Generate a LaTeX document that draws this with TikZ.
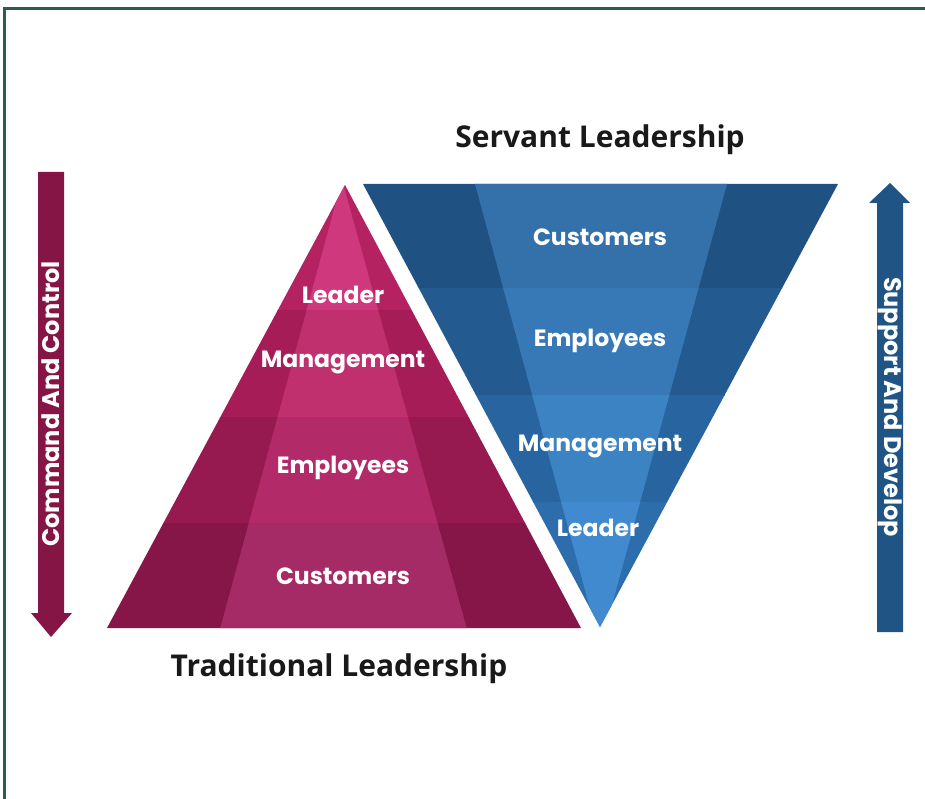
\documentclass[tikz,border=0pt]{standalone}
\usepackage{fontspec}
\newfontfamily\labfont{Poppins}
\newfontfamily\titlefont{Open Sans}
\definecolor{pinkSa}{HTML}{B42262}\definecolor{pinkCa}{HTML}{D0387D}
\definecolor{pinkSb}{HTML}{A51C57}\definecolor{pinkCb}{HTML}{C0306F}
\definecolor{pinkSc}{HTML}{961950}\definecolor{pinkCc}{HTML}{B22B68}
\definecolor{pinkSd}{HTML}{861647}\definecolor{pinkCd}{HTML}{A52B66}
\definecolor{blueSa}{HTML}{1F5282}\definecolor{blueCa}{HTML}{3470A9}
\definecolor{blueSb}{HTML}{235A90}\definecolor{blueCb}{HTML}{3779B6}
\definecolor{blueSc}{HTML}{2865A0}\definecolor{blueCc}{HTML}{3C83C4}
\definecolor{blueSd}{HTML}{2D6DAC}\definecolor{blueCd}{HTML}{418ACF}
\definecolor{arrowPink}{HTML}{851545}
\definecolor{arrowBlue}{HTML}{1F5485}
\definecolor{frameCol}{HTML}{2B5F4B}
\begin{document}
\begin{tikzpicture}[x=1pt,y=-1pt,
  lab/.style={text=white,font=\labfont\bfseries\fontsize{23.5}{25}\selectfont,inner sep=0pt},
  ttl/.style={text=black!90,font=\titlefont\bfseries\fontsize{30}{32}\selectfont,inner sep=0pt},
  arrowtxt/.style={text=white,font=\labfont\bfseries\fontsize{24}{26}\selectfont,inner sep=0pt}]
\useasboundingbox (0,0) rectangle (925,799);
\fill[white] (0,0) rectangle (925,799);
% frame
\draw[frameCol,line width=3pt] (4,805)--(4,9)--(930,9);
% pink triangle
\coordinate (pT) at (345,185);
\coordinate (pL) at (107,628);
\coordinate (pR) at (581,628);
\begin{scope}
\clip (pT)--(pL)--(pR)--cycle;
\foreach \ya/\yb/\s/\c in {180/310/pinkSa/pinkCa,310/417/pinkSb/pinkCb,417/523/pinkSc/pinkCc,523/640/pinkSd/pinkCd}{
  \fill[\s] (90,\ya) rectangle (600,\yb+0.6);
  \begin{scope}
    \clip (90,\ya) rectangle (600,\yb+0.6);
    \fill[\c] (217,640)--(342,180)--(470,640)--cycle;
  \end{scope}
}
\end{scope}
% blue triangle
\coordinate (bL) at (363,184);
\coordinate (bR) at (838,184);
\coordinate (bB) at (600,627);
\begin{scope}
\clip (bL)--(bR)--(bB)--cycle;
\foreach \ya/\yb/\s/\c in {180/288/blueSa/blueCa,288/395/blueSb/blueCb,395/502/blueSc/blueCc,502/640/blueSd/blueCd}{
  \fill[\s] (350,\ya) rectangle (850,\yb+0.6);
  \begin{scope}
    \clip (350,\ya) rectangle (850,\yb+0.6);
    \fill[\c] (475,184)--(727,184)--(606,627)--(595,627)--cycle;
  \end{scope}
}
\end{scope}
% arrows
\fill[arrowPink] (38,172)--(64,172)--(64,613)--(72,613)--(51,637)--(31,613)--(38,613)--cycle;
\fill[arrowBlue] (877,632)--(903,632)--(903,203)--(910,203)--(890,183)--(869,203)--(877,203)--cycle;
\node[arrowtxt,rotate=90] (cc) at (51,404) {Command And Control};
\node[arrowtxt,rotate=-90] (sd) at (890,407) {Support And Develop};
% pink labels
\node[lab] (pl) at (343,295) {Leader};
\node[lab] (pm) at (343,362) {Management};
\node[lab] (pe) at (343,468) {Employees};
\node[lab] (pc) at (343,576) {Customers};
% blue labels
\node[lab] (bc) at (600,237) {Customers};
\node[lab] (be) at (600,341) {Employees};
\node[lab] (bm) at (600,446) {Management};
\node[lab] (bl) at (598,528) {Leader};
% titles
\node[ttl] (st) at (600,140) {Servant Leadership};
\node[ttl] (tt) at (339,669) {Traditional Leadership};
\end{tikzpicture}
\end{document}
